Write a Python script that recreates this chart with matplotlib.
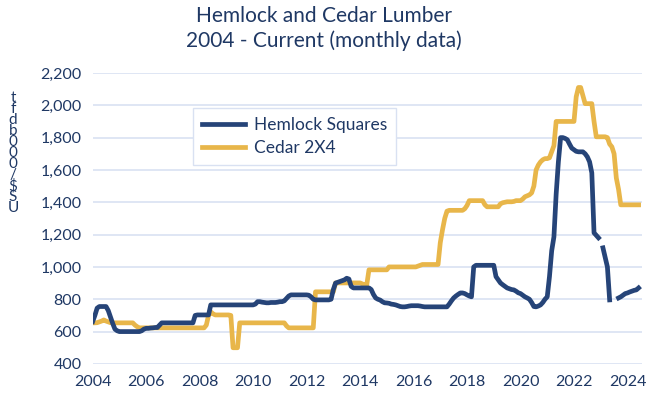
import numpy as np
import matplotlib.pyplot as plt

# monthly prices, Jan 2004 .. Jun 2024 (US$ per thousand board feet)
start_year = 2004
nan = np.nan

hemlock = [
    662, 700, 745, 755, 755, 755, 755, 730, 690, 650, 615, 605,      # 2004
    600, 600, 600, 600, 600, 600, 600, 600, 600, 600, 605, 615,      # 2005
    620, 620, 622, 623, 625, 625, 640, 654, 654, 654, 654, 654,      # 2006
    654, 654, 654, 654, 654, 654, 654, 654, 654, 654, 700, 703,      # 2007
    703, 703, 703, 703, 703, 765, 765, 765, 765, 765, 765, 765,      # 2008
    765, 765, 765, 765, 765, 765, 765, 765, 765, 765, 765, 765,      # 2009
    765, 770, 785, 785, 782, 780, 778, 778, 780, 780, 780, 782,      # 2010
    785, 785, 790, 805, 820, 827, 827, 827, 827, 827, 827, 827,      # 2011
    827, 825, 815, 800, 796, 796, 796, 796, 796, 796, 796, 800,      # 2012
    860, 900, 905, 910, 915, 920, 930, 925, 880, 870, 870, 870,      # 2013
    870, 870, 870, 870, 870, 860, 830, 808, 800, 795, 785, 778,      # 2014
    777, 775, 770, 768, 765, 760, 755, 753, 753, 755, 758, 760,      # 2015
    760, 760, 760, 758, 755, 753, 753, 753, 753, 753, 753, 753,      # 2016
    753, 753, 753, 753, 770, 790, 808, 820, 830, 839, 839, 835,      # 2017
    827, 820, 815, 1000, 1010, 1010, 1010, 1010, 1010, 1010, 1010, 1010,  # 2018
    1010, 940, 920, 901, 890, 880, 870, 865, 860, 858, 850, 840,     # 2019
    835, 825, 815, 808, 800, 780, 755, 753, 758, 765, 780, 800,      # 2020
    815, 940, 1100, 1186, 1450, 1650, 1800, 1800, 1795, 1787, 1760, 1735,  # 2021
    1725, 1715, 1712, 1712, 1712, 1700, 1681, 1650, 1582, 1211, 1195, 1180,  # 2022
    nan, 1118, 1060, 1000, 796, nan, nan, nan, 808, 815, 825, 835,   # 2023
    839, 845, 850, 855, 858, 870,                                    # 2024
]

cedar = [
    654, 654, 655, 660, 665, 672, 665, 660, 655, 654, 654, 654,      # 2004
    654, 654, 654, 654, 654, 654, 654, 640, 630, 623, 623, 623,      # 2005
    623, 623, 623, 623, 623, 623, 623, 623, 623, 623, 623, 623,      # 2006
    623, 623, 623, 623, 623, 623, 623, 623, 623, 623, 623, 623,      # 2007
    623, 623, 623, 640, 700, 722, 710, 703, 703, 703, 703, 703,      # 2008
    703, 703, 700, 500, 500, 500, 654, 654, 654, 654, 654, 654,      # 2009
    654, 654, 654, 654, 654, 654, 654, 654, 654, 654, 654, 654,      # 2010
    654, 654, 654, 635, 623, 623, 623, 623, 623, 623, 623, 623,      # 2011
    623, 623, 623, 623, 846, 846, 846, 846, 846, 846, 846, 846,      # 2012
    846, 901, 901, 901, 901, 901, 901, 901, 901, 901, 901, 901,      # 2013
    901, 895, 889, 889, 982, 982, 982, 982, 982, 982, 982, 982,      # 2014
    982, 1000, 1000, 1000, 1000, 1000, 1000, 1000, 1000, 1000, 1000, 1000,  # 2015
    1000, 1000, 1005, 1010, 1015, 1015, 1015, 1015, 1015, 1015, 1015, 1015,  # 2016
    1150, 1230, 1300, 1345, 1350, 1350, 1350, 1350, 1350, 1350, 1350, 1360,  # 2017
    1380, 1410, 1410, 1410, 1410, 1410, 1410, 1410, 1385, 1372, 1372, 1372,  # 2018
    1372, 1372, 1372, 1390, 1397, 1400, 1403, 1403, 1403, 1405, 1410, 1410,  # 2019
    1410, 1420, 1434, 1440, 1446, 1458, 1500, 1600, 1630, 1650, 1663, 1670,  # 2020
    1670, 1675, 1712, 1750, 1900, 1900, 1900, 1900, 1900, 1900, 1900, 1900,  # 2021
    1900, 2053, 2110, 2110, 2060, 2010, 2010, 2010, 2010, 1900, 1805, 1805,  # 2022
    1805, 1805, 1805, 1800, 1760, 1743, 1700, 1550, 1480, 1384, 1384, 1384,  # 2023
    1384, 1384, 1384, 1384, 1384, 1384,                              # 2024
]

year_ticks = list(range(2004, 2025, 2))
value_ticks = list(range(400, 2201, 200))

months = start_year + np.arange(len(hemlock)) / 12.0

blue = '#264478'
gold = '#E8B64A'
text_col = '#1F3864'

plt.rcParams['font.family'] = ['Lato', 'DejaVu Sans']

fig = plt.figure(figsize=(6.48, 4.03), dpi=100)
ax = fig.add_axes([0.143, 0.097, 0.848, 0.722])

ax.grid(True, axis='y', color='#D9E1F2', linewidth=1.2)
ax.set_axisbelow(True)
ax.plot(months, cedar, color=gold, linewidth=3.4, label='Cedar 2X4', zorder=2)
ax.plot(months, hemlock, color=blue, linewidth=3.4, label='Hemlock Squares', zorder=3)

ax.set_xlim(2004, 2024.55)
ax.set_ylim(400, 2200)
ax.set_xticks(year_ticks)
ax.set_yticks(value_ticks)
ax.set_yticklabels([f'{v:,}' for v in value_ticks])
ax.tick_params(length=0, labelsize=11.5, labelcolor=text_col, pad=8)
for s in ax.spines.values():
    s.set_visible(False)

handles, labels = ax.get_legend_handles_labels()
leg = ax.legend(handles[::-1], labels[::-1], loc='upper left',
                bbox_to_anchor=(0.298, 0.732), bbox_transform=fig.transFigure,
                borderaxespad=0, fancybox=False, framealpha=1, edgecolor='#D9E1F2',
                fontsize=12.5, handlelength=2.5, handletextpad=0.5,
                borderpad=0.5, labelspacing=0.45)
for t in leg.get_texts():
    t.set_color(text_col)

fig.suptitle('Hemlock and Cedar Lumber\n2004 - Current (monthly data)',
             y=0.985, fontsize=15, color=text_col, linespacing=1.25)

# stacked y-axis label
fig.text(0.02, 0.62, '\n'.join(reversed('US$/000bdft')), ha='center', va='center',
         fontsize=11, color=text_col, linespacing=0.72)

fig.savefig('out.png')
